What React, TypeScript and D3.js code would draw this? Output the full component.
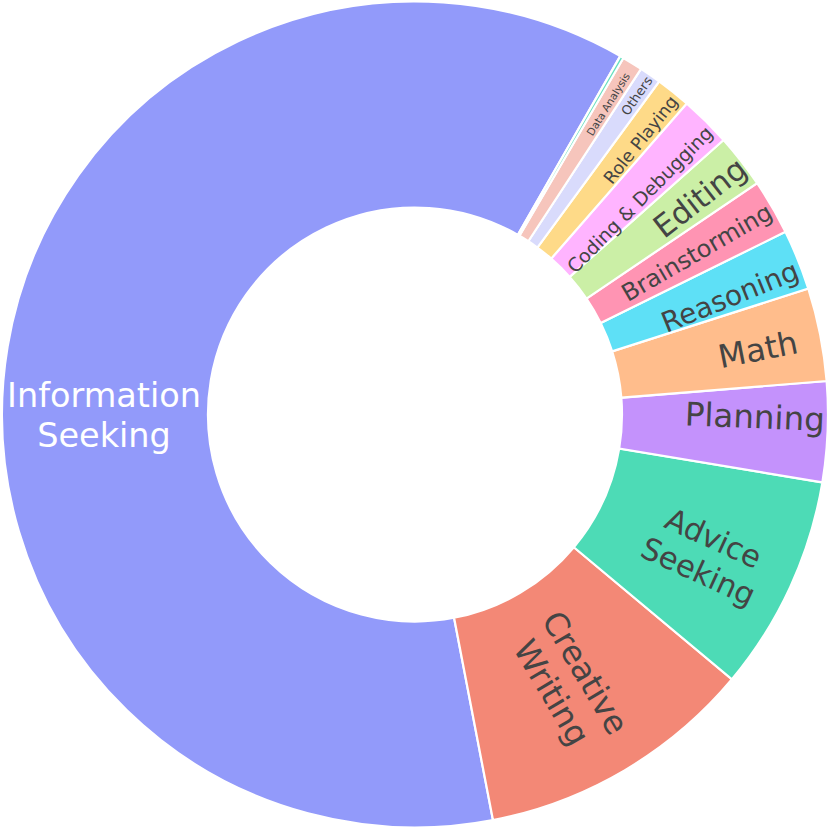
import React from "react";
import * as d3 from "d3";

// ---- data ----
const categories = [
  "Information Seeking",
  "Creative Writing",
  "Advice Seeking",
  "Planning",
  "Math",
  "Reasoning",
  "Brainstorming",
  "Editing",
  "Coding & Debugging",
  "Role Playing",
  "Others",
  "Data Analysis",
  "Translation",
];
const values = [61.3, 10.9, 8.45, 3.92, 3.64, 2.36, 2.17, 2.11, 2.0, 1.36, 0.85, 0.8, 0.14];
const labelLines = [
  ["Information", "Seeking"],
  ["Creative", "Writing"],
  ["Advice", "Seeking"],
  ["Planning"],
  ["Math"],
  ["Reasoning"],
  ["Brainstorming"],
  ["Editing"],
  ["Coding & Debugging"],
  ["Role Playing"],
  ["Others"],
  ["Data Analysis"],
  [],
];

// ---- styles ----
const colors = [
  "#929AFA", "#F38876", "#4DDBB6", "#C492FC", "#FFBD8C", "#5EE0F6",
  "#FF94B3", "#CBEFA6", "#FFB4FF", "#FEDA88", "#D9DBFC", "#F6C5BC", "#66E0C0",
];
const labelSize = [33.5, 32.5, 30.5, 32.5, 32, 28, 24, 31, 19, 17.5, 13, 10.5, 0];
const labelRadius = [0.753, 0.748, 0.782, 0.823, 0.845, 0.814, 0.787, 0.867, 0.753, 0.861, 0.94, 0.885, 0];
const labelShift = [-9.5, 0.6, 1, -2.1, 0.4, 1.4, 0.2, 0.5, 1.5, 0.65, 0.1, 0.16, 0];
const labelHorizontal = [true, false, false, false, false, false, false, false, false, false, false, false, false];
const labelFill = ["#ffffff", "#444", "#444", "#444", "#444", "#444", "#444", "#444", "#444", "#444", "#444", "#444", "#444"];

const W = 830;
const H = 830;
const CX = 415;
const CY = 414.5;
const R_OUT = 413;
const R_IN = 207;
const START_DEG = 29.8;
const LINE_H = 1.2;

export default function App() {
  const rad = (d: number) => (d * Math.PI) / 180;
  const pie = d3
    .pie<number>()
    .sort(null)
    .value((d) => d)
    .startAngle(rad(START_DEG))
    .endAngle(rad(START_DEG - 360));
  const arcs = pie(values);
  const arcGen = d3.arc<d3.PieArcDatum<number>>().innerRadius(R_IN).outerRadius(R_OUT);

  return (
    <svg
      width={W}
      height={H}
      style={{ position: "absolute", left: 0, top: 0, background: "#fff" }}
      fontFamily="DejaVu Sans, Verdana, sans-serif"
    >
      <g transform={`translate(${CX},${CY})`}>
        {arcs.map((a, i) => (
          <path key={"s" + i} d={arcGen(a) || ""} fill={colors[i]} stroke="#fff" strokeWidth={2.2} />
        ))}
        {arcs.map((a, i) => {
          const lines = labelLines[i];
          if (!lines.length || !labelSize[i]) return null;
          let midDeg = ((((a.startAngle + a.endAngle) / 2) * 180) / Math.PI) % 360;
          if (midDeg < 0) midDeg += 360;
          const posDeg = midDeg + labelShift[i];
          const r = labelRadius[i] * R_OUT;
          const x = r * Math.sin(rad(posDeg));
          const y = -r * Math.cos(rad(posDeg));
          const rot = labelHorizontal[i] ? 0 : ((midDeg + 720) % 180) - 90;
          const fs = labelSize[i];
          const lh = fs * LINE_H;
          const n = lines.length;
          return (
            <text
              key={"t" + i}
              transform={`translate(${x},${y}) rotate(${rot})`}
              fontSize={fs}
              fill={labelFill[i]}
              textAnchor="middle"
            >
              {lines.map((ln, j) => (
                <tspan key={j} x={0} y={(j - (n - 1) / 2) * lh + 0.3645 * fs}>
                  {ln}
                </tspan>
              ))}
            </text>
          );
        })}
      </g>
    </svg>
  );
}
